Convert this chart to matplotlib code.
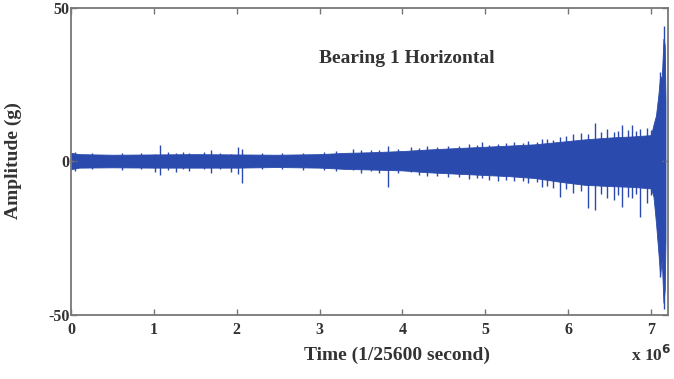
import matplotlib
matplotlib.use("Agg")
import matplotlib.pyplot as plt
import numpy as np

plt.rcParams["font.family"] = ["Liberation Serif", "DejaVu Serif"]
plt.rcParams["axes.unicode_minus"] = False

# ─── Data (time in 1e6 samples, amplitude in g) ──────────────────────────────
# dense vibration band, drawn as upper / lower envelope
env_t     = [0.00, 0.10, 0.50, 1.00, 1.50, 2.00, 2.50, 3.00, 3.30, 3.60, 4.00,
             4.30, 4.60, 5.00, 5.30, 5.60, 5.90, 6.20, 6.50, 6.80, 7.00,
             7.03, 7.06, 7.09, 7.11, 7.13, 7.15, 7.165, 7.175]
env_upper = [2.8, 2.4, 2.2, 2.3, 2.4, 2.3, 2.2, 2.4, 2.8, 3.0, 3.4,
             3.9, 4.3, 4.8, 5.2, 5.6, 6.4, 7.2, 7.8, 8.2, 8.6,
             12.0, 15.0, 22.0, 28.0, 27.0, 40.0, 38.0, 20.0]
env_lower = [-2.5, -2.0, -1.9, -2.0, -2.0, -2.0, -1.8, -2.0, -2.4, -2.6, -2.9,
             -3.5, -3.9, -4.4, -4.8, -5.4, -6.6, -7.6, -8.0, -8.3, -8.8,
             -11.5, -20.0, -30.0, -37.0, -32.0, -46.0, -42.0, -25.0]

# isolated spikes sticking out of the band
spike_t   = [0.05, 0.25, 0.62, 0.85, 1.01, 1.08, 1.17, 1.27, 1.35, 1.43,
             1.60, 1.69, 1.80, 1.93, 2.01, 2.07, 2.30, 2.55, 2.80, 3.05,
             3.20, 3.40, 3.50, 3.62, 3.72, 3.82, 3.95, 4.10, 4.20, 4.30,
             4.42, 4.55, 4.68, 4.80, 4.90, 4.96, 5.05, 5.15, 5.25, 5.35,
             5.45, 5.52, 5.62, 5.68, 5.75, 5.82, 5.90, 5.98, 6.06, 6.15,
             6.24, 6.33, 6.40, 6.47, 6.55, 6.60, 6.65, 6.72, 6.77, 6.82,
             6.87, 6.95, 7.00, 7.11, 7.155]
spike_top = [3.2, 2.9, 2.8, 2.7, 2.5, 5.4, 3.0, 2.8, 3.1, 2.8,
             3.2, 3.6, 2.9, 2.5, 4.8, 4.0, 2.8, 2.7, 2.9, 3.0,
             3.4, 4.2, 3.6, 3.6, 3.9, 5.1, 4.0, 4.6, 4.5, 5.0,
             4.8, 5.2, 5.0, 5.6, 5.4, 6.4, 5.5, 5.8, 5.9, 6.2,
             6.0, 6.6, 6.4, 7.2, 7.4, 7.0, 8.0, 8.2, 9.0, 9.2,
             9.0, 12.4, 9.5, 10.5, 9.6, 9.9, 11.9, 10.2, 12.0, 9.8,
             10.5, 10.8, 10.4, 29.0, 44.0]
spike_bot = [-3.0, -2.6, -2.9, -2.5, -3.5, -4.3, -2.7, -3.3, -2.6, -3.0,
             -2.4, -3.8, -2.6, -3.5, -4.0, -7.0, -2.4, -2.5, -2.7, -2.8,
             -3.2, -2.8, -3.6, -3.2, -3.8, -8.2, -3.8, -3.4, -4.4, -4.8,
             -4.6, -5.0, -5.2, -5.8, -5.3, -5.5, -6.0, -6.2, -5.9, -6.5,
             -6.4, -7.0, -6.8, -8.2, -8.0, -8.6, -11.6, -9.0, -10.3, -9.6,
             -15.0, -15.8, -10.5, -11.9, -12.5, -10.8, -14.7, -11.5, -12.0, -10.6,
             -18.0, -13.5, -11.0, -37.5, -48.0]

XTICKS = [0, 1, 2, 3, 4, 5, 6, 7]
YTICKS = [-50, 0, 50]

BLUE = "#2a4aad"
GREY = "#777777"
TXT = "#333333"

fig = plt.figure(figsize=(6.74, 3.79), dpi=100)
ax = fig.add_axes([0.1053, 0.1689, 0.8858, 0.8100])

t = np.array(env_t) * 1e6
ax.fill_between(t, env_lower, env_upper, color=BLUE, lw=0.6, edgecolor=BLUE)
ax.vlines(np.array(spike_t) * 1e6, spike_bot, spike_top, color=BLUE, lw=1.0)

ax.set_xlim(0, 7.205e6)
ax.set_ylim(-50, 50)
ax.set_xticks(np.array(XTICKS) * 1e6)
ax.set_xticklabels([str(v) for v in XTICKS])
ax.set_yticks(YTICKS)
ax.set_yticklabels(["-50", "0", "50"])

for s in ax.spines.values():
    s.set_color(GREY); s.set_linewidth(1.3)
ax.tick_params(direction="in", top=True, right=True, length=4, width=1,
               color=GREY, labelcolor=TXT, labelsize=11.5)
ax.tick_params(axis="x", pad=5)
ax.tick_params(axis="y", pad=1)
for lab in ax.get_xticklabels() + ax.get_yticklabels():
    lab.set_fontweight("bold")

ax.text(4.05e6, 33.7, "Bearing 1 Horizontal", ha="center", va="center",
        fontsize=14, fontweight="bold", color=TXT)

fig.text(397 / 674, 1 - 355 / 379, "Time (1/25600 second)", ha="center",
         va="center", fontsize=14, fontweight="bold", color=TXT)
fig.text(13 / 674, 1 - 161 / 379, "Amplitude (g)", ha="center",
         va="center", rotation=90, fontsize=14, fontweight="bold", color=TXT)
fig.text(631 / 674, 1 - 355 / 379, "x 10$^{\\mathbf{6}}$", ha="left",
         va="center", fontsize=12.5, fontweight="bold", color=TXT)

plt.savefig("out.png", dpi=100)
